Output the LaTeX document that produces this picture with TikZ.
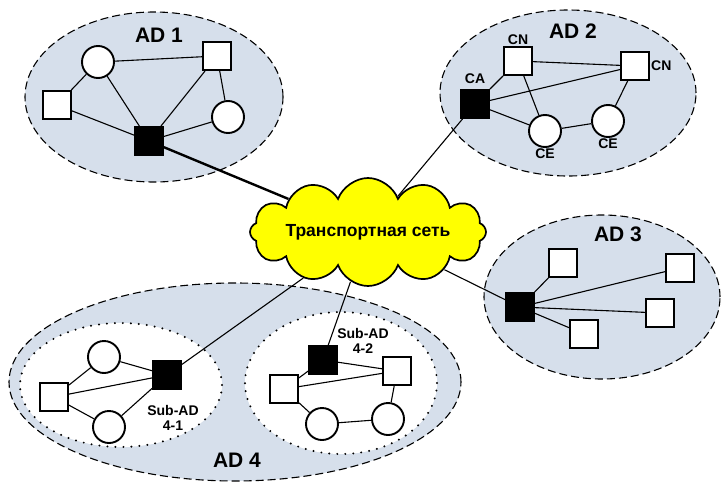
\documentclass[tikz,border=0pt]{standalone}
\usepackage{fontspec}
\setmainfont{Liberation Sans}
\usetikzlibrary{shapes.geometric,shapes.symbols,positioning}
\definecolor{adfill}{RGB}{214,223,235}
\definecolor{netyellow}{RGB}{255,255,0}

\begin{document}
\begin{tikzpicture}[x=1pt,y=-1pt,font=\bfseries,
    adzone/.style={ellipse,draw,fill=adfill,inner sep=0,line width=1.1pt,dash pattern=on 8pt off 4pt},
    subzone/.style={ellipse,draw,fill=white,inner sep=0,line width=2.2pt,line cap=round,dash pattern=on 0pt off 8pt},
    host/.style={circle,draw,fill=white,minimum size=32,inner sep=0,line width=1.9pt},
    sw/.style={rectangle,draw,fill=white,minimum size=28,inner sep=0,line width=1.9pt},
    gw/.style={sw,fill=black},
    link/.style={line width=1.1pt},
    biglabel/.style={font=\fontsize{21}{23}\selectfont\bfseries},
    smalllabel/.style={font=\fontsize{14}{15}\selectfont\bfseries,align=center,inner sep=1pt}]
    \useasboundingbox (0,0) rectangle (723,482);

    % domains
    \node [adzone,minimum width=258,minimum height=170] (ad1) at (154,97) {};
    \node [adzone,minimum width=256,minimum height=166] (ad2) at (568,93) {};
    \node [adzone,minimum width=236,minimum height=164] (ad3) at (602,297) {};
    \node [adzone,minimum width=452,minimum height=198] (ad4) at (235,382) {};
    \node [subzone,minimum width=202,minimum height=124] (sub1) at (121,385) {};
    \node [subzone,minimum width=192,minimum height=142] (sub2) at (341,383) {};

    \node [biglabel] (ad1t) at (159,35) {AD 1};
    \node [biglabel] (ad2t) at (573,31) {AD 2};
    \node [biglabel] (ad3t) at (618,234) {AD 3};
    \node [biglabel] (ad4t) at (237,460) {AD 4};

    % transport network
    \node [cloud,draw,fill=netyellow,line width=1.7pt,cloud puffs=12,cloud puff arc=140,
           cloud ignores aspect,minimum width=236,minimum height=108] (net) at (368,232) {};
    \node [font=\fontsize{17.5}{19}\selectfont\bfseries] (nett) at (368,232) {Транспортная сеть};

    % AD 1
    \node [gw] (g1) at (149,141) {};
    \node [host] (a1) at (98,62) {};
    \node [sw] (a2) at (217,56) {};
    \node [sw] (a3) at (57,105) {};
    \node [host] (a4) at (228,117) {};
    \path [link]
    (a1) edge (a2)
    (a1) edge (a3)
    (a1) edge (g1)
    (a2) edge (g1)
    (a2) edge (a4)
    (a3) edge (g1)
    (a4) edge (g1)
    ;

    % AD 2
    \node [gw,label={[smalllabel,label distance=4pt]above:CA}] (ca) at (475,104) {};
    \node [sw,label={[smalllabel]above:CN}] (cn1) at (518,61) {};
    \node [sw,label={[smalllabel]right:CN}] (cn2) at (635,66) {};
    \node [host,label={[smalllabel]below:CE}] (ce1) at (545,131) {};
    \node [host,label={[smalllabel]below:CE}] (ce2) at (608,121) {};
    \path [link]
    (ca) edge (cn1)
    (ca) edge (cn2)
    (ca) edge (ce1)
    (cn1) edge (cn2)
    (cn1) edge (ce1)
    (ce1) edge (ce2)
    (ce2) edge (cn2)
    ;

    % AD 3
    \node [gw] (g3) at (520,307) {};
    \node [sw] (b1) at (563,263) {};
    \node [sw] (b2) at (680,268) {};
    \node [sw] (b3) at (660,313) {};
    \node [sw] (b4) at (584,334) {};
    \path [link]
    (g3) edge (b1)
    (g3) edge (b2)
    (g3) edge (b3)
    (g3) edge (b4)
    ;

    % AD 4 / Sub-AD 4-1
    \node [gw] (g41) at (167,375) {};
    \node [host] (c1) at (104,357) {};
    \node [sw] (c2) at (54,397) {};
    \node [host] (c3) at (109,427) {};
    \node [smalllabel] (s41) at (173,418) {Sub-AD\\4-1};
    \path [link]
    (c2) edge (c1)
    (c2) edge (g41)
    (c2) edge (c3)
    (c1) edge (g41)
    (c3) edge (g41)
    ;

    % AD 4 / Sub-AD 4-2
    \node [gw] (g42) at (323,360) {};
    \node [sw] (d1) at (284,389) {};
    \node [sw] (d2) at (397,371) {};
    \node [host] (d3) at (322,424) {};
    \node [host] (d4) at (388,419) {};
    \node [smalllabel] (s42) at (363,341) {Sub-AD\\4-2};
    \path [link]
    (d1) edge (g42)
    (g42) edge (d2)
    (d1) edge (d2)
    (d1) edge (d3)
    (d3) edge (d4)
    (d4) edge (d2)
    ;

    % uplinks
    \path [link]
    (ca) edge (net)
    (g3) edge (net)
    (g41) edge (net)
    (g42) edge (net)
    ;
    \draw [line width=2.4pt] (g1) -- (net);
\end{tikzpicture}
\end{document}
